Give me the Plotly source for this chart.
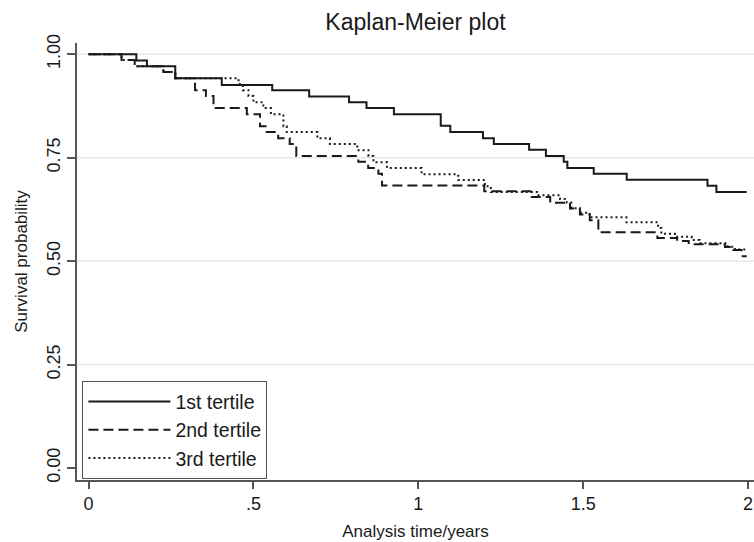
import plotly.graph_objects as go

# ---- data ----
t_first = [0, 0.145, 0.177, 0.263, 0.404, 0.557, 0.669, 0.790, 0.843, 0.926, 1.068, 1.097,
           1.196, 1.229, 1.336, 1.387, 1.441, 1.452, 1.532, 1.632, 1.877, 1.904, 1.996]
s_first = [1.0, 0.985, 0.971, 0.942, 0.926, 0.913, 0.898, 0.884, 0.870, 0.855, 0.827, 0.812,
           0.797, 0.783, 0.769, 0.754, 0.740, 0.725, 0.711, 0.697, 0.682, 0.667, 0.667]

t_second = [0, 0.10, 0.14, 0.227, 0.263, 0.323, 0.356, 0.379, 0.48, 0.52, 0.54, 0.575, 0.61,
            0.63, 0.818, 0.848, 0.879, 0.89, 1.20, 1.34, 1.40, 1.46, 1.49, 1.52, 1.546, 1.725,
            1.785, 1.82, 1.93, 1.955, 1.98, 1.996]
s_second = [1.0, 0.986, 0.971, 0.957, 0.942, 0.913, 0.899, 0.870, 0.855, 0.826, 0.812, 0.797,
            0.783, 0.754, 0.740, 0.725, 0.711, 0.683, 0.669, 0.655, 0.641, 0.627, 0.613, 0.599,
            0.570, 0.556, 0.549, 0.541, 0.534, 0.527, 0.512, 0.512]

t_third = [0, 0.10, 0.14, 0.227, 0.263, 0.455, 0.468, 0.485, 0.50, 0.53, 0.553, 0.591, 0.601,
           0.694, 0.732, 0.815, 0.849, 0.864, 0.905, 1.01, 1.121, 1.202, 1.22, 1.36, 1.43, 1.45,
           1.464, 1.49, 1.52, 1.631, 1.727, 1.737, 1.778, 1.829, 1.853, 1.938, 1.96, 1.996]
s_third = [1.0, 0.986, 0.971, 0.957, 0.942, 0.928, 0.913, 0.899, 0.884, 0.870, 0.855, 0.826,
           0.812, 0.797, 0.783, 0.768, 0.754, 0.739, 0.725, 0.710, 0.696, 0.681, 0.667, 0.659,
           0.650, 0.642, 0.628, 0.617, 0.606, 0.594, 0.580, 0.566, 0.559, 0.551, 0.543, 0.535,
           0.528, 0.528]

series_names = ["1st tertile", "2nd tertile", "3rd tertile"]
x_tickvals = [0, 0.5, 1, 1.5, 2]
x_ticktext = ["0", ".5", "1", "1.5", "2"]
y_tickvals = [0, 0.25, 0.5, 0.75, 1.0]
y_ticktext = ["0.00", "0.25", "0.50", "0.75", "1.00"]
grid_vals = [0.25, 0.5, 0.75, 1.0]

FONT = "Liberation Sans, Arial, sans-serif"
INK = "#1a1a1a"
AXIS = "#555555"

W, H = 754, 542

fig = go.Figure()
styles = ["solid", "10px,5px", "2px,3px"]
for t, s, name, dash in zip([t_first, t_second, t_third], [s_first, s_second, s_third],
                            series_names, styles):
    fig.add_trace(go.Scatter(x=t, y=s, mode="lines", name=name, line_shape="hv",
                             line=dict(color=INK, width=2, dash=dash)))

for g in grid_vals:
    fig.add_shape(type="line", xref="paper", x0=0, x1=1, yref="y", y0=g, y1=g,
                  line=dict(color="#e8e8e8", width=1.5), layer="below")

fig.update_layout(
    width=W, height=H,
    margin=dict(l=77, r=0, t=43, b=62),
    paper_bgcolor="white", plot_bgcolor="white",
    font=dict(family=FONT, color=INK, size=18),
    title=dict(text="Kaplan-Meier plot", x=0.5, xref="paper", xanchor="center",
               y=1 - 22 / H, yanchor="middle", font=dict(size=23, family=FONT, color=INK)),
    showlegend=True,
    legend=dict(x=0.008, y=0.226, xanchor="left", yanchor="top",
                bordercolor=AXIS, borderwidth=1, bgcolor="white",
                font=dict(size=19.5, family=FONT, color=INK), tracegroupgap=0,
                itemwidth=82),
    xaxis=dict(range=[-0.035, 2.018], tickvals=x_tickvals, ticktext=x_ticktext,
               showgrid=False, zeroline=False, showline=True, linecolor=AXIS, linewidth=1.5,
               ticks="outside", ticklen=7, tickcolor=AXIS, tickwidth=1.5,
               ticklabeloverflow="allow",
               tickfont=dict(size=18, family=FONT, color=INK),
               title=dict(text="Analysis time/years", font=dict(size=17, family=FONT, color=INK),
                          standoff=12)),
    yaxis=dict(range=[-0.029, 1.0273], tickvals=y_tickvals, ticktext=y_ticktext,
               tickangle=-90,
               showgrid=False, zeroline=False, showline=True, linecolor=AXIS, linewidth=1.5,
               ticks="outside", ticklen=8, tickcolor=AXIS, tickwidth=1.5,
               tickfont=dict(size=18, family=FONT, color=INK),
               title=dict(text="Survival probability", font=dict(size=17, family=FONT, color=INK),
                          standoff=12)),
)

# remove the default page margin so the 754x542 figure fills the window exactly
fig.write_html("out.html", config={"displayModeBar": False},
               post_script="document.body.style.margin='0';document.body.style.overflow='hidden';")
